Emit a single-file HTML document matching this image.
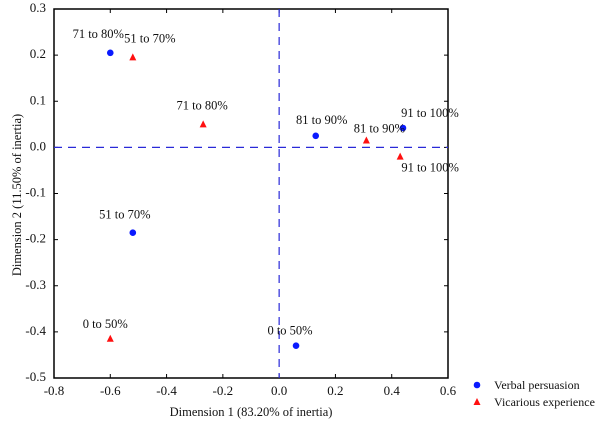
<!DOCTYPE html>
<html><head><meta charset="utf-8"><style>
body{margin:0;background:#fff;}
svg text{font-family:"Liberation Serif","Times New Roman",serif;fill:#111;}
</style></head><body>
<svg id="chart" width="600" height="426" xmlns="http://www.w3.org/2000/svg"></svg>
<script>
const xTicks=[-0.8,-0.6,-0.4,-0.2,0.0,0.2,0.4,0.6];
const yTicks=[0.3,0.2,0.1,0.0,-0.1,-0.2,-0.3,-0.4,-0.5];
const verbalLabels=["71 to 80%","51 to 70%","81 to 90%","91 to 100%","0 to 50%"];
const verbalX=[-0.6,-0.52,0.13,0.44,0.06];
const verbalY=[0.205,-0.185,0.025,0.042,-0.43];
const vicLabels=["51 to 70%","71 to 80%","81 to 90%","91 to 100%","0 to 50%"];
const vicX=[-0.52,-0.27,0.31,0.43,-0.6];
const vicY=[0.195,0.05,0.015,-0.02,-0.415];
const verbalOff=[[-12,-15],[-8,-14],[6,-12],[27,-11],[-6,-11]];
const vicOff=[[17,-15],[-1,-15],[13,-8],[30,15],[-5,-11]];
const L=54,R=448,T=9,B=378;
const FF='"Liberation Serif","Times New Roman",serif';
const sx=v=>L+(v+0.8)/1.4*(R-L);
const sy=v=>T+(0.3-v)/0.8*(B-T);
const svg=document.getElementById('chart');
const NS='http://www.w3.org/2000/svg';
function mk(t,a,txt){const e=document.createElementNS(NS,t);for(const k in a)e.setAttribute(k,a[k]);if(txt!==undefined){e.textContent=txt;e.setAttribute('font-family',FF);}svg.appendChild(e);return e;}
let e;
e=mk('rect',{x:L,y:T,width:R-L,height:B-T,fill:'none',stroke:'#000','stroke-width':1.5});


xTicks.forEach(v=>{
 e=mk('line',{x1:sx(v),x2:sx(v),y1:B,y2:B-4,stroke:'#000'});
 
 
 e=mk('line',{x1:sx(v),x2:sx(v),y1:T,y2:T+4,stroke:'#000'});
 
 
 e=mk('text',{x:sx(v),y:B+17,'text-anchor':'middle','font-size':13},v.toFixed(1));
 
 
});
yTicks.forEach(v=>{
 e=mk('line',{x1:L,x2:L+4,y1:sy(v),y2:sy(v),stroke:'#000'});
 
 
 e=mk('line',{x1:R,x2:R-4,y1:sy(v),y2:sy(v),stroke:'#000'});
 
 
 e=mk('text',{x:L-8,y:sy(v)+3,'text-anchor':'end','font-size':13},v.toFixed(1));
 
 
});
e=mk('line',{x1:L,x2:R,y1:sy(0),y2:sy(0),stroke:'#2a2ad8','stroke-width':1.2,'stroke-dasharray':'8,6'});


e=mk('line',{x1:sx(0),x2:sx(0),y1:T,y2:B,stroke:'#2a2ad8','stroke-width':1.2,'stroke-dasharray':'8,6'});


verbalX.forEach((v,i)=>{
 const x=sx(v),y=sy(verbalY[i]);
 e=mk('circle',{cx:x,cy:y,r:3.3,fill:'#0a1aff'});
 
 
 e=mk('text',{x:x+verbalOff[i][0],y:y+verbalOff[i][1],'text-anchor':'middle','font-size':12.5},verbalLabels[i]);
 
 
});
vicX.forEach((v,i)=>{
 const x=sx(v),y=sy(vicY[i]);
 e=mk('polygon',{points:`${x},${y-4} ${x-3.5},${y+3} ${x+3.5},${y+3}`,fill:'#ff1010'});
 
 
 e=mk('text',{x:x+vicOff[i][0],y:y+vicOff[i][1],'text-anchor':'middle','font-size':12.5},vicLabels[i]);
 
 
});
e=mk('text',{x:251,y:416,'text-anchor':'middle','font-size':12.5},'Dimension 1 (83.20% of inertia)');


e=mk('text',{x:0,y:0,'text-anchor':'middle','font-size':12.5,transform:'translate(21,195) rotate(-90)'},'Dimension 2 (11.50% of inertia)');


e=mk('circle',{cx:477,cy:385,r:3.3,fill:'#0a1aff'});


e=mk('text',{x:494,y:389,'font-size':12},'Verbal persuasion');


e=mk('polygon',{points:'477,398 473.5,405 480.5,405',fill:'#ff1010'});


e=mk('text',{x:494,y:406,'font-size':12},'Vicarious experience');


</script>
</body></html>
